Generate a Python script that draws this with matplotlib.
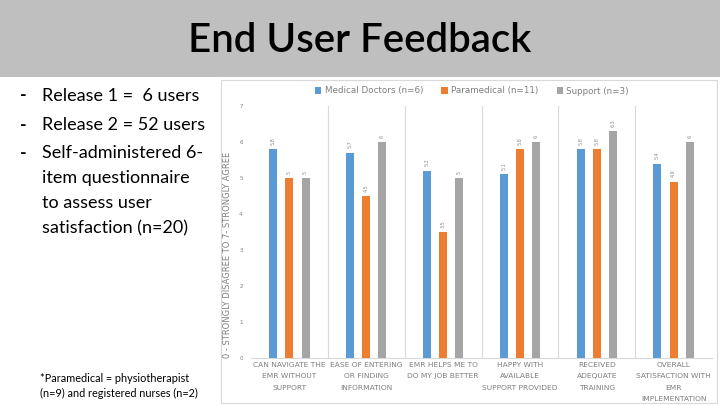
import matplotlib
matplotlib.use("Agg")
import matplotlib.pyplot as plt
from matplotlib.patches import Rectangle
import numpy as np

# survey items (x categories)
categories = [
    "CAN NAVIGATE THE\nEMR WITHOUT\nSUPPORT",
    "EASE OF ENTERING\nOR FINDING\nINFORMATION",
    "EMR HELPS ME TO\nDO MY JOB BETTER",
    "HAPPY WITH\nAVAILABLE\nSUPPORT PROVIDED",
    "RECEIVED\nADEQUATE\nTRAINING",
    "OVERALL\nSATISFACTION WITH\nEMR\nIMPLEMENTATION",
]
groups = ["Medical Doctors (n=6)", "Paramedical (n=11)", "Support (n=3)"]
doctors = [5.8, 5.7, 5.2, 5.1, 5.8, 5.4]
paramedical = [5.0, 4.5, 3.5, 5.8, 5.8, 4.9]
support = [5.0, 6.0, 5.0, 6.0, 6.3, 6.0]
colors = ["#5B9BD5", "#ED7D31", "#A5A5A5"]

bullets = ["Release 1 =  6 users", "Release 2 = 52 users",
           "Self-administered 6-\nitem questionnaire\nto assess user\nsatisfaction (n=20)"]
footnote = "*Paramedical = physiotherapist\n(n=9) and registered nurses (n=2)"

W, H = 720, 405
fig = plt.figure(figsize=(7.2, 4.05), dpi=100)
fig.patch.set_facecolor("white")

def px(x, y):
    # pixel coords (top-left origin) -> figure fraction
    return x / W, 1 - y / H

# header band
fig.patches.append(Rectangle((0, 1 - 77 / H), 1, 77 / H, transform=fig.transFigure,
                             facecolor="#BFBFBF", edgecolor="none", zorder=-2))
fig.text(*px(360, 40), "End User Feedback", ha="center", va="center",
         fontsize=29, family="Lato", weight="semibold", color="black")

# chart panel border
fig.patches.append(Rectangle(px(221, 403), 496 / W, 323 / H, transform=fig.transFigure,
                             facecolor="white", edgecolor="#D9D9D9", lw=0.8, zorder=-2))

# left text
fs = 13
for y, t in zip([96, 125], bullets[:2]):
    fig.text(*px(20, y), "-", ha="left", va="center", fontsize=fs, family="Lato",
             weight="bold")
    fig.text(*px(42, y), t, ha="left", va="center", fontsize=fs, family="Lato")
fig.text(*px(20, 154), "-", ha="left", va="center", fontsize=fs, family="Lato",
         weight="bold")
fig.text(*px(42, 145), bullets[2], ha="left", va="top", fontsize=fs, family="Lato",
         linespacing=1.7)
fig.text(*px(40, 386), footnote, ha="left", va="center", fontsize=7.8, family="Lato",
         linespacing=1.35)

# bar chart
l, t = px(251, 106)
r, b = px(712, 358)
ax = fig.add_axes([l, b, r - l, t - b])
ax.set_facecolor("none")
x = np.arange(len(categories))
off = 0.21
wid = 0.105
for i, (vals, c) in enumerate(zip([doctors, paramedical, support], colors)):
    ax.bar(x + (i - 1) * off, vals, width=wid, color=c, label=groups[i], zorder=3)
    for bx, v in zip(x + (i - 1) * off, vals):
        ax.text(bx, v + 0.12, f"{v:.1f}" if v != int(v) else f"{int(v)}",
                rotation=90, ha="center", va="bottom", fontsize=3.5, color="#8C8C8C")

ax.set_xlim(-0.5, len(categories) - 0.5)
ax.set_ylim(0, 7)
ax.set_yticks(range(0, 8))
ax.tick_params(axis="y", length=0, labelsize=4, labelcolor="#7F7F7F", pad=6)
ax.set_xticks(x)
ax.set_xticklabels(categories, fontsize=5.4, color="#7F7F7F", linespacing=2.05)
ax.tick_params(axis="x", length=0, pad=3)
for bnd in np.arange(0.5, len(categories) - 0.5, 1):
    ax.axvline(bnd, color="#D9D9D9", lw=0.8, zorder=1)
for s in ["top", "right", "left"]:
    ax.spines[s].set_visible(False)
ax.spines["bottom"].set_color("#D9D9D9")
ax.set_ylabel("0 - STRONGLY DISAGREE TO 7- STRONGLY AGREE", fontsize=6,
              color="#7F7F7F")
ax.yaxis.set_label_coords(-0.041, 0.41)

fig.legend(*ax.get_legend_handles_labels(), loc="center", bbox_to_anchor=px(472, 91),
           ncol=3, frameon=False, fontsize=6.3, labelcolor="#7F7F7F",
           handlelength=0.7, handleheight=0.7, handletextpad=0.4, columnspacing=2.1)

fig.savefig("out.png", dpi=100)
